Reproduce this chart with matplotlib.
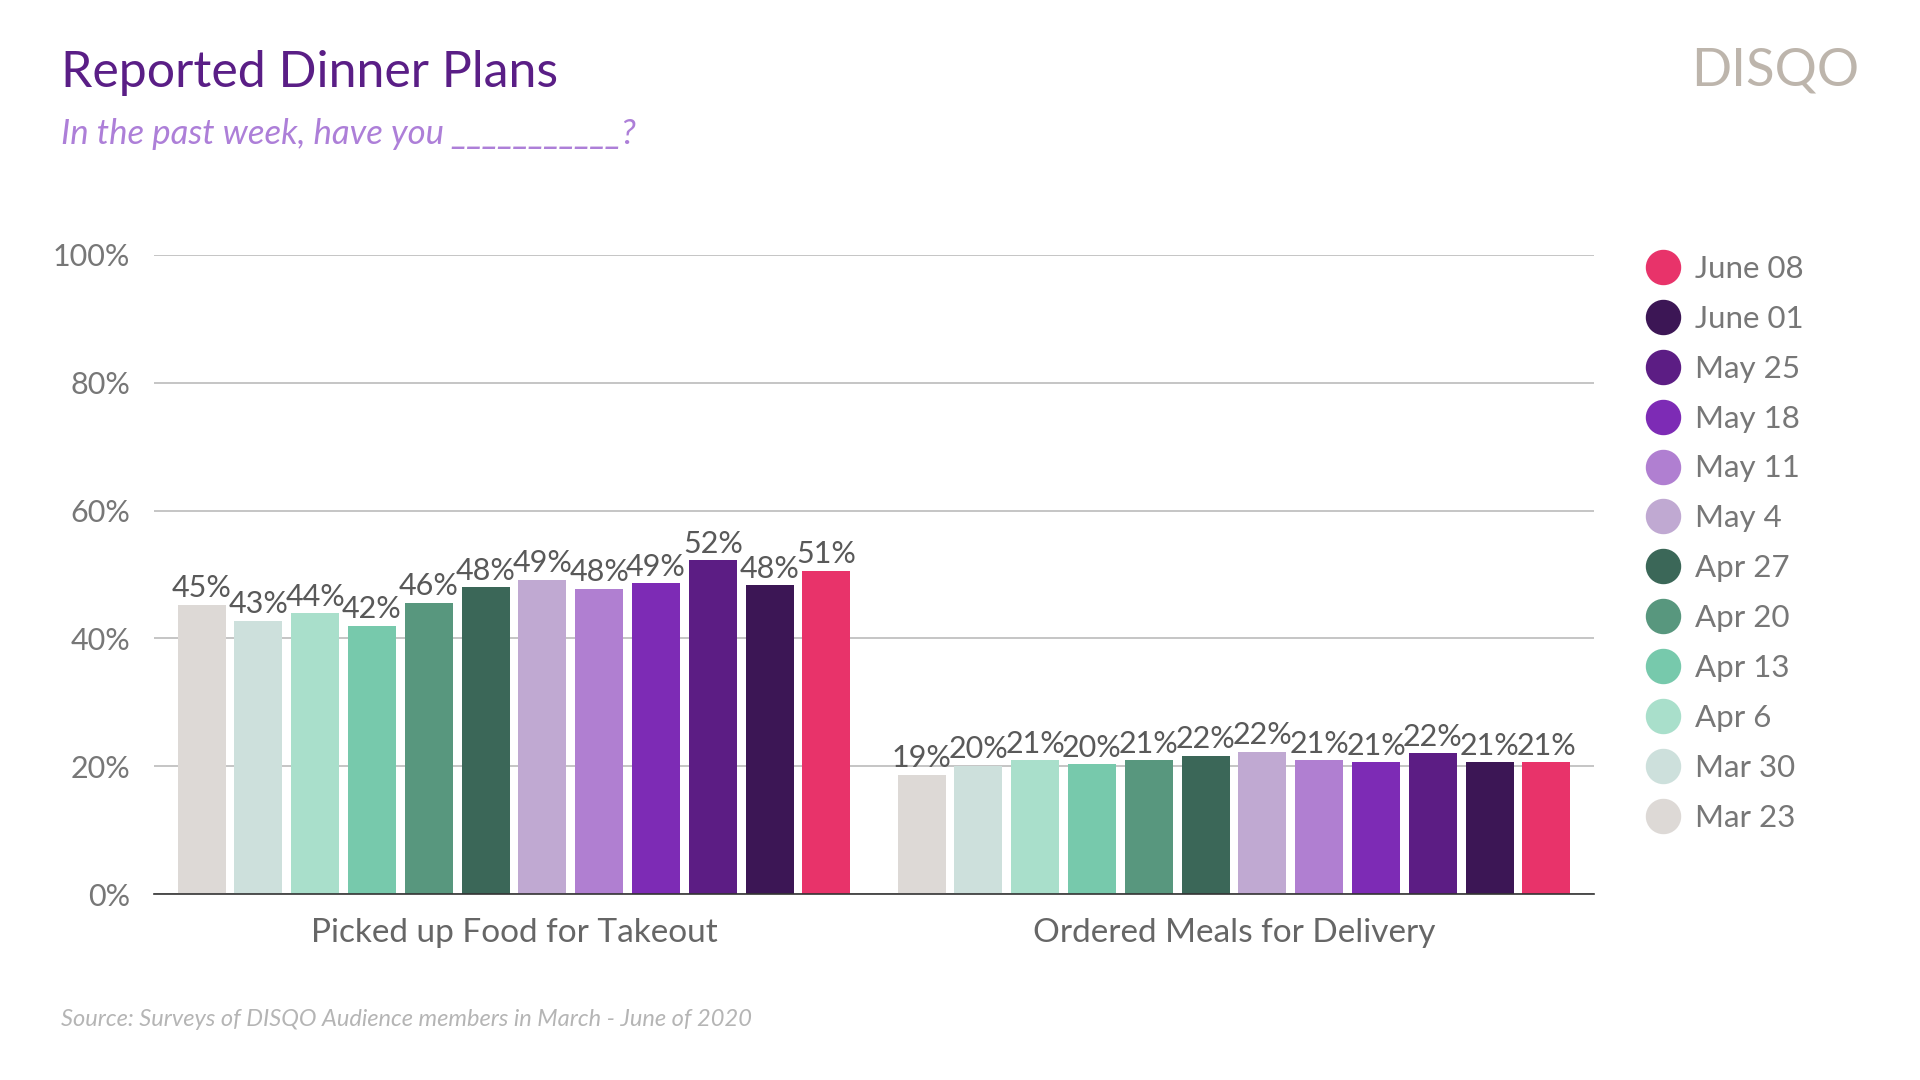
#!/usr/bin/env python3

import matplotlib
matplotlib.use("Agg")
import matplotlib.pyplot as plt
import numpy as np
from matplotlib.lines import Line2D

plt.rcParams["font.family"] = ["Lato", "DejaVu Sans"]

categories = ["Picked up Food for Takeout", "Ordered Meals for Delivery"]
dates = ["Mar 23", "Mar 30", "Apr 6", "Apr 13", "Apr 20", "Apr 27",
         "May 4", "May 11", "May 18", "May 25", "June 01", "June 08"]
takeout = [45.3, 42.7, 43.9, 42.0, 45.6, 48.0, 49.2, 47.7, 48.6, 52.2, 48.3, 50.6]
delivery = [18.6, 20.0, 20.9, 20.3, 20.9, 21.6, 22.3, 20.9, 20.6, 22.0, 20.6, 20.6]
colors = ["#ddd9d6", "#cde0dc", "#a9dfcb", "#77c9ac", "#58977e", "#3b6758",
          "#c0a9d2", "#b07fd1", "#7d2bb5", "#5c1d84", "#3c1655", "#e8336a"]
yticks = [0, 20, 40, 60, 80, 100]

fig = plt.figure(figsize=(19.2, 10.8), dpi=100)
ax = fig.add_axes([154 / 1920, 186 / 1080, 1440 / 1920, 639 / 1080])

x = np.arange(len(categories))
pitch = 0.0789
width = 0.0667
for i, (label, color) in enumerate(zip(dates, colors)):
    vals = [takeout[i], delivery[i]]
    bars = ax.bar(x + (i - 5.5) * pitch, vals, width=width, color=color, zorder=3)
    ax.bar_label(bars, labels=[f"{v:.0f}%" for v in vals], padding=2,
                 fontsize=22, color="#595959")

ax.set_xlim(-0.5, 1.5)
ax.set_ylim(0, 100)
ax.set_yticks(yticks)
ax.set_yticklabels([f"{t}%" for t in yticks], fontsize=22, color="#777777")
ax.set_xticks(x)
ax.set_xticklabels(categories, fontsize=24, color="#666666")
ax.tick_params(axis="y", length=0, pad=17)
ax.tick_params(axis="x", length=0, pad=17)
ax.grid(axis="y", color="#bbbbbb", linewidth=1.2, zorder=0)
for side in ["top", "right", "left"]:
    ax.spines[side].set_visible(False)
ax.spines["bottom"].set_color("#333333")
ax.spines["bottom"].set_linewidth(1.2)
ax.spines["bottom"].set_zorder(4)

handles = [Line2D([], [], linestyle="none", marker="o", markersize=24.5,
                  markerfacecolor=c, markeredgecolor=c) for c in colors]
fig.legend(handles[::-1], dates[::-1], loc="upper left",
           bbox_to_anchor=(1644 / 1920, 1 - 255 / 1080), frameon=False,
           fontsize=22.5, labelspacing=0.70, handlelength=1.2, handletextpad=0.42,
           borderpad=0, borderaxespad=0, labelcolor="#777777")

fig.text(61 / 1920, 1 - 72.5 / 1080, "Reported Dinner Plans", fontsize=36,
         color="#5a1e86", va="center", ha="left")
fig.text(61 / 1920, 1 - 133.5 / 1080, "In the past week, have you ___________?",
         fontsize=25, color="#ad7fd8", style="italic", va="center", ha="left")
fig.text(1859 / 1920, 1 - 71 / 1080, "DISQO", fontsize=38, color="#bdb5ac",
         va="center", ha="right")
fig.text(61 / 1920, 1 - 1020 / 1080,
         "Source: Surveys of DISQO Audience members in March - June of 2020",
         fontsize=17, color="#b5b5b5", style="italic",
         va="center", ha="left")

fig.savefig("out.png", dpi=100, facecolor="white")
